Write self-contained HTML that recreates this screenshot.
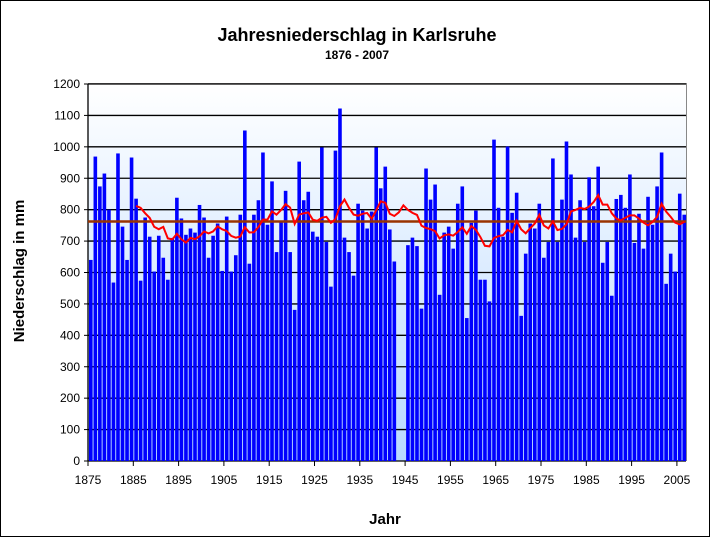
<!DOCTYPE html>
<html><head><meta charset="utf-8"><style>body{margin:0;background:#fff}svg{display:block;font-family:"Liberation Sans",Arial,sans-serif}</style></head>
<body>
<svg id="s" width="711" height="538" xmlns="http://www.w3.org/2000/svg">
<defs><linearGradient id="g" x1="0" y1="0" x2="0" y2="1"><stop offset="0" stop-color="#ffffff"/><stop offset="1" stop-color="#b8d8ff"/></linearGradient></defs>
<rect x="0.5" y="0.5" width="709" height="536" fill="#fff" stroke="#000"/>
<rect x="88" y="84" width="598" height="377" fill="url(#g)"/>
<line x1="88" y1="83.5" x2="686" y2="83.5" stroke="#888"/>
<line x1="686.5" y1="83" x2="686.5" y2="461" stroke="#888"/>
<text x="357" y="41" text-anchor="middle" font-size="18" font-weight="bold">Jahresniederschlag in Karlsruhe</text>
<text x="357" y="59" text-anchor="middle" font-size="12" font-weight="bold">1876 - 2007</text>
<text x="385" y="524" text-anchor="middle" font-size="15" font-weight="bold">Jahr</text>
<text transform="translate(24,271) rotate(-90)" text-anchor="middle" font-size="15" font-weight="bold">Niederschlag in mm</text>
<g id="grid"></g><g id="bars"></g><g id="lines"></g><g id="labels" font-size="12"></g>
</svg>
<script>
var v=[640,969,874,915,800,568,979,746,640,966,835,574,775,714,603,717,647,577,710,838,772,720,740,727,815,775,647,717,756,605,778,603,655,784,1052,628,784,830,982,752,890,665,765,860,665,481,953,830,857,730,714,998,697,555,988,1122,711,665,590,819,797,740,794,998,868,937,737,635,null,null,687,711,684,485,931,832,880,529,727,746,676,819,874,455,758,797,577,577,508,1023,806,714,1001,790,854,462,660,756,740,819,647,697,963,697,832,1017,912,711,830,697,903,811,937,631,697,526,834,847,806,912,694,787,676,841,752,874,982,564,660,603,851,784];
var NS="http://www.w3.org/2000/svg",y0=461,k=377/1200,x0=88,dx=598/132;
function el(p,t,a,txt){var e=document.createElementNS(NS,t);for(var i in a)e.setAttribute(i,a[i]);if(txt!=null)e.textContent=txt;document.getElementById(p).appendChild(e);}
for(var i=0;i<=12;i++){var y=y0-i*100*k;if(i>0)el("grid","line",{x1:88,x2:686,y1:y,y2:y,stroke:"#000","stroke-width":1.3});el("grid","line",{x1:84,x2:88,y1:y,y2:y,stroke:"#000"});el("labels","text",{x:80,y:y+4,"text-anchor":"end"},String(i*100));}
el("grid","line",{x1:88,x2:88,y1:84,y2:461,stroke:"#000","stroke-width":1.3});
el("grid","line",{x1:88,x2:686,y1:461,y2:461,stroke:"#000","stroke-width":1.3});
for(var yr=1875;yr<=2005;yr+=10){var x=x0+(yr-1875)*4.53;el("grid","line",{x1:x,x2:x,y1:461,y2:466,stroke:"#000"});el("labels","text",{x:x,y:484,"text-anchor":"middle"},String(yr));}
var s=0,n=0;
v.forEach(function(val,i){if(val==null)return;s+=val;n++;var x=x0+1+i*dx;el("bars","rect",{x:x,y:y0-val*k,width:3.6,height:val*k,fill:"#0000ff"});});
var m=s/n;
el("lines","line",{x1:88,x2:686,y1:y0-m*k,y2:y0-m*k,stroke:"#993300","stroke-width":2.5});
var pts=[];
for(var i=10;i<v.length;i++){var ss=0,c=0;for(var j=i-10;j<=i;j++)if(v[j]!=null){ss+=v[j];c++;}pts.push((x0+1+i*dx+1.8).toFixed(1)+","+(y0-ss/c*k).toFixed(1));}
el("lines","polyline",{points:pts.join(" "),fill:"none",stroke:"#ff0000","stroke-width":2});
</script>
</body></html>
